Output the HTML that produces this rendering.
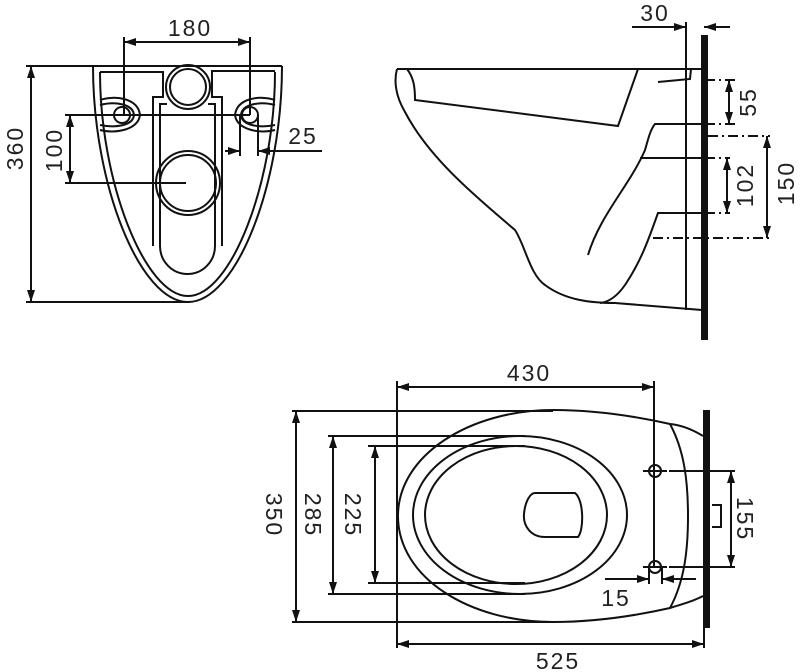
<!DOCTYPE html>
<html><head><meta charset="utf-8"><style>
html,body{margin:0;padding:0;background:#fff;}
svg{display:block;}
text{font-family:"Liberation Sans",sans-serif;font-size:23px;fill:#222;letter-spacing:2px;}
</style></head><body>
<svg width="800" height="672" viewBox="0 0 800 672" xmlns="http://www.w3.org/2000/svg">
<defs>
<marker id="a" viewBox="0 0 12 8" refX="12" refY="4" markerWidth="12" markerHeight="8" markerUnits="userSpaceOnUse" orient="auto-start-reverse"><path d="M0,0 L12,4 L0,8 z" fill="#111"/></marker>
</defs>
<g fill="none" stroke="#111" stroke-width="2">
<!-- TOP-LEFT VIEW -->
<path d="M93,66 H282"/>
<path d="M93,66 C93,185 140,302 188,302 C236,302 282,185 282,66"/>
<path d="M100,72 C100,182 145,296 188,296 C231,296 275,182 275,72"/>
<path d="M100,72 H163 V97 H153 V246"/>
<path d="M275,71 H212 V97 H222 V246"/>
<path d="M160,246 V104 H167"/>
<path d="M215,246 V104 H208"/>
<path d="M160,246 A27.5,28 0 0 0 215,246"/>
<circle cx="188" cy="87" r="22"/>
<circle cx="188" cy="87" r="18"/>
<circle cx="188" cy="183" r="32"/>
<circle cx="188" cy="183" r="28"/>
<path d="M100,100 C115,95 138,98 140,115 C138,130 115,134 100,130"/>
<path d="M100,105 C115,101 133,104 134,115 C133,126 115,128 100,125"/>
<circle cx="122" cy="115" r="8"/>
<path d="M275,100 C260,95 237,98 235,115 C237,130 260,134 275,130"/>
<path d="M275,105 C260,101 242,104 241,115 C242,126 260,128 275,125"/>
<circle cx="250" cy="115" r="8"/>
<!-- dims -->
<path d="M124,37 V115 M250,37 V115"/>
<path d="M124,42 H250" marker-start="url(#a)" marker-end="url(#a)"/>
<path d="M26,66 H93 M26,302 H190"/>
<path d="M31,66 V302" marker-start="url(#a)" marker-end="url(#a)"/>
<path d="M65,115 H250 M65,183 H186"/>
<path d="M70,115 V183" marker-start="url(#a)" marker-end="url(#a)"/>
<path d="M240,115 V156 M258,115 V156"/>
<path d="M225,151 H240" marker-end="url(#a)"/>
<path d="M322,151 H258" marker-end="url(#a)"/>

<!-- SIDE VIEW -->
<rect x="701" y="35" width="7" height="305" fill="#111" stroke="none"/>
<path d="M686,22 V310"/>
<path d="M632,27 H686" marker-end="url(#a)"/>
<path d="M730,27 H704" marker-end="url(#a)"/>
<path d="M397,69 H702"/>
<path d="M397,69 C394,80 395,95 405,112 C430,160 480,200 515,230 C525,245 530,275 545,285 C565,300 590,303 615,303 L702,310"/>
<path d="M407,69 C414,78 415,88 415,100 L618,126 L638,69"/>
<path d="M658,82 L690,79 L691,69"/>
<path d="M702,124 H655 C650,130 648,140 645,150 C630,185 600,215 588,255"/>
<path d="M640,158 H702"/>
<path d="M702,213 H658 C650,235 642,260 625,285 C618,295 610,302 600,303"/>
<path d="M705,80 H735 M705,124 H735 M708,136 H770 M705,158 H730 M705,213 H730 M653,238 H770" stroke-dasharray="10,4,2,4"/>
<path d="M729,80 V124" marker-start="url(#a)" marker-end="url(#a)"/>
<path d="M727,158 V213" marker-start="url(#a)" marker-end="url(#a)"/>
<path d="M767,136 V238" marker-start="url(#a)" marker-end="url(#a)"/>

<!-- PLAN VIEW -->
<rect x="703" y="410" width="7" height="218" fill="#111" stroke="none"/>
<path d="M712,505 H721 V527 H712"/>
<path d="M397,381 V648 M654,381 V566"/>
<path d="M397,387 H654" marker-start="url(#a)" marker-end="url(#a)"/>
<path d="M397,644 H704" marker-start="url(#a)" marker-end="url(#a)"/>
<path d="M704,628 V648"/>
<path d="M292,411 H553 M292,622 H553"/>
<path d="M296,411 V622" marker-start="url(#a)" marker-end="url(#a)"/>
<path d="M328,436 H525 M328,594 H525"/>
<path d="M333,436 V594" marker-start="url(#a)" marker-end="url(#a)"/>
<path d="M368,446 H525 M368,583 H525"/>
<path d="M375,446 V583" marker-start="url(#a)" marker-end="url(#a)"/>
<path d="M703,436 C690,428 680,425 670,424 C630,415 590,410 553,410 C470,410 398,455 398,516 C398,578 470,622 553,622 C590,622 630,617 670,608 C682,604 692,602 703,596"/>
<path d="M670,424 C684,450 688,480 688,516 C688,552 684,582 670,608"/>
<ellipse cx="520" cy="515" rx="107" ry="79"/>
<ellipse cx="516" cy="515" rx="91" ry="69"/>
<path d="M535,493 H575 C584,500 584,530 578,537 H545 C530,537 523,525 524,514 C525,502 530,493 535,493 Z"/>
<circle cx="655" cy="471" r="6"/>
<circle cx="655" cy="567" r="6"/>
<path d="M643,471 H667 M643,567 H667"/>
<path d="M669,471 H735 M669,567 H735"/>
<path d="M731,471 V567" marker-start="url(#a)" marker-end="url(#a)"/>
<path d="M649,567 V584 M662,567 V584"/>
<path d="M605,579 H649" marker-end="url(#a)"/>
<path d="M696,579 H662" marker-end="url(#a)"/>
</g>
<g>
<text x="190" y="36" text-anchor="middle">180</text>
<text x="303" y="144" text-anchor="middle">25</text>
<text transform="translate(23,148) rotate(-90)" text-anchor="middle">360</text>
<text transform="translate(62,150) rotate(-90)" text-anchor="middle">100</text>
<text x="655" y="21" text-anchor="middle">30</text>
<text transform="translate(756,102) rotate(-90)" text-anchor="middle">55</text>
<text transform="translate(753,185) rotate(-90)" text-anchor="middle">102</text>
<text transform="translate(794,183) rotate(-90)" text-anchor="middle">150</text>
<text x="529" y="381" text-anchor="middle">430</text>
<text x="558" y="669" text-anchor="middle">525</text>
<text transform="translate(266,515) rotate(90)" text-anchor="middle">350</text>
<text transform="translate(305,515) rotate(90)" text-anchor="middle">285</text>
<text transform="translate(345,515) rotate(90)" text-anchor="middle">225</text>
<text transform="translate(737,519) rotate(90)" text-anchor="middle">155</text>
<text x="616" y="606" text-anchor="middle">15</text>
</g>
</svg>
</body></html>
